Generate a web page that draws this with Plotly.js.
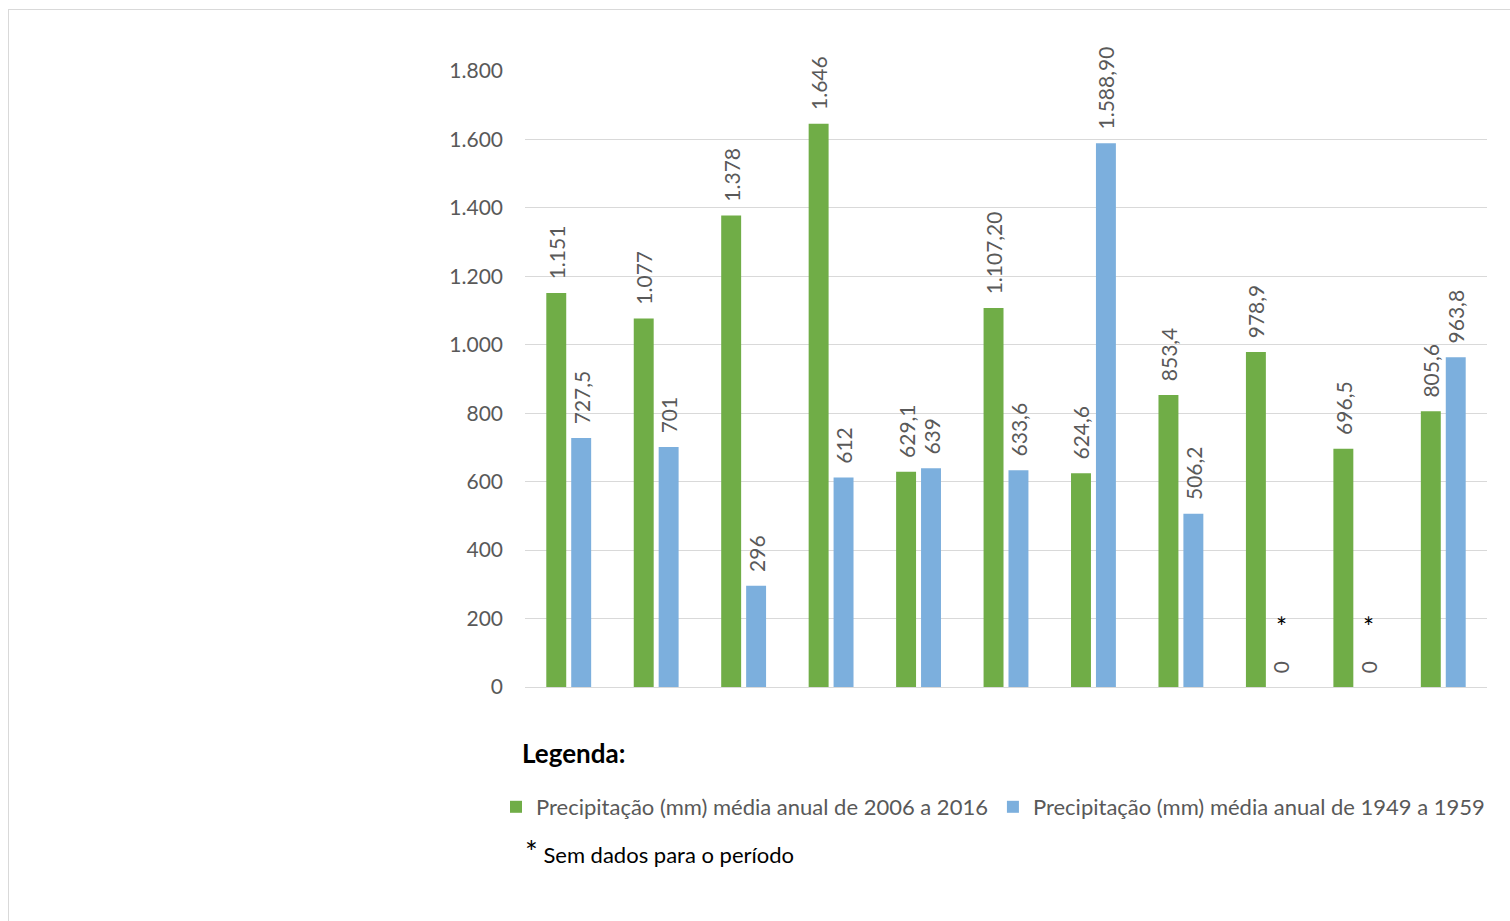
<!DOCTYPE html>
<html>
<head>
<meta charset="utf-8">
<script src="https://cdn.plot.ly/plotly-3.0.1.min.js"></script>
<style>
  html, body { margin: 0; padding: 0; background: #fff; }
  #chart { width: 1510px; height: 921px; }
  #frame { position: absolute; left: 8px; top: 9px; width: 1520px; height: 940px;
           border: 1px solid #d9d9d9; pointer-events: none; box-sizing: border-box; }
</style>
</head>
<body>
<div id="chart"></div>
<div id="frame"></div>
<script>
// Categories (no visible tick labels in the original)
const categories = ["Local 1", "Local 2", "Local 3", "Local 4", "Local 5", "Local 6",
                    "Local 7", "Local 8", "Local 9", "Local 10", "Local 11"];

// Precipitação (mm) média anual de 2006 a 2016
const serie2006 = [1151, 1077, 1378, 1646, 629.1, 1107.2, 624.6, 853.4, 978.9, 696.5, 805.6];
const rotulos2006 = ["1.151", "1.077", "1.378", "1.646", "629,1", "1.107,20", "624,6", "853,4", "978,9", "696,5", "805,6"];

// Precipitação (mm) média anual de 1949 a 1959
const serie1949 = [727.5, 701, 296, 612, 639, 633.6, 1588.9, 506.2, 0, 0, 963.8];
const rotulos1949 = ["727,5", "701", "296", "612", "639", "633,6", "1.588,90", "506,2", "0", "0", "963,8"];

// Sem dados para o período (marked with *)
const semDados = [false, false, false, false, false, false, false, false, true, true, false];

const nome2006 = "Precipitação (mm) média anual de 2006 a 2016";
const nome1949 = "Precipitação (mm) média anual de 1949 a 1959";

const FONT = "Lato, 'Open Sans', sans-serif";
const GRAY = "#595959";

const labelFont = { family: FONT, size: 21, color: GRAY };

const traces = [
  {
    type: "bar", name: nome2006, x: categories, y: serie2006,
    text: rotulos2006, texttemplate: "\u00a0\u00a0%{text}",
    textposition: "outside", textangle: -90, constraintext: "none",
    cliponaxis: false, textfont: labelFont, outsidetextfont: labelFont,
    marker: { color: "#70AD47" }, hoverinfo: "y"
  },
  {
    type: "bar", name: nome1949, x: categories, y: serie1949,
    text: rotulos1949, texttemplate: "\u00a0\u00a0%{text}",
    textposition: "outside", textangle: -90, constraintext: "none",
    cliponaxis: false, textfont: labelFont, outsidetextfont: labelFont,
    marker: { color: "#7CAFDD" }, hoverinfo: "y"
  }
];

const annotations = [];
semDados.forEach(function (flag, i) {
  if (flag) {
    annotations.push({
      x: categories[i], y: 0, xref: "x", yref: "y",
      text: "*", showarrow: false, xshift: 13, yshift: 60,
      font: { family: FONT, size: 26, color: "#000" }
    });
  }
});
annotations.push({
  xref: "paper", yref: "paper", x: -0.005, y: (687 - 753) / 616,
  xanchor: "left", yanchor: "middle", showarrow: false,
  text: "<b>Legenda:</b>", font: { family: FONT, size: 26, color: "#000" }
});
annotations.push({
  xref: "paper", yref: "paper", x: -0.002, y: (687 - 851) / 616,
  xanchor: "left", yanchor: "middle", showarrow: false,
  text: "<span style='font-size:30px'>*</span> Sem dados para o período",
  font: { family: FONT, size: 22, color: "#000" }
});

const layout = {
  width: 1510, height: 921,
  margin: { l: 525, r: 23, t: 71, b: 234, pad: 0 },
  paper_bgcolor: "#fff", plot_bgcolor: "#fff",
  separators: ",.",
  barmode: "group", bargap: 0.43, bargroupgap: 0.2,
  font: { family: FONT, color: GRAY, size: 20 },
  showlegend: true,
  legend: {
    orientation: "h", xref: "paper", yref: "paper",
    x: (496 - 525) / 962, y: (687 - 786) / 616, xanchor: "left", yanchor: "top",
    font: { family: FONT, size: 22, color: GRAY },
    bgcolor: "rgba(0,0,0,0)", traceorder: "normal"
  },
  xaxis: {
    type: "category", showticklabels: false, showgrid: false,
    showline: true, linecolor: "#d9d9d9", linewidth: 1, ticks: "", zeroline: false,
    fixedrange: true
  },
  yaxis: {
    range: [0, 1800], dtick: 200, tick0: 0, separatethousands: true,
    showgrid: true, gridcolor: "#d9d9d9", gridwidth: 1,
    zeroline: true, zerolinecolor: "#d9d9d9", zerolinewidth: 1,
    showline: false, ticks: "", ticklabelstandoff: 21,
    tickfont: { family: FONT, size: 21, color: GRAY }, fixedrange: true
  },
  annotations: annotations
};

Plotly.newPlot("chart", traces, layout, { displayModeBar: false, staticPlot: true });
</script>
</body>
</html>
